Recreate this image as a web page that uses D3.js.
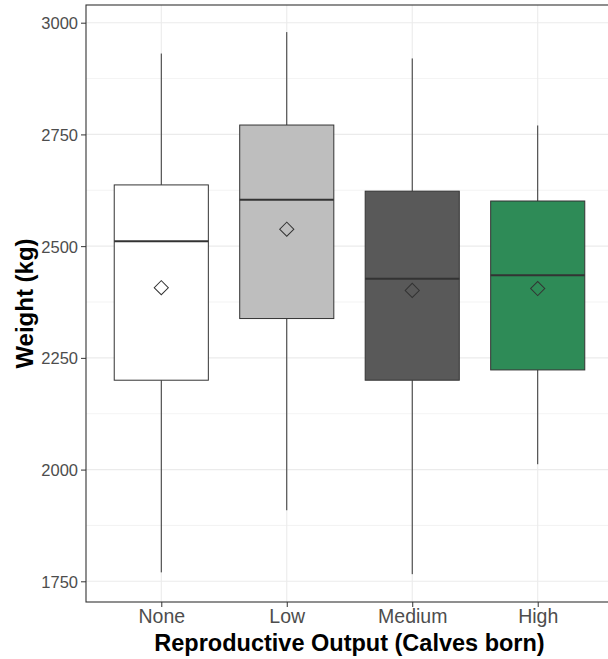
<!DOCTYPE html>
<html>
<head>
<meta charset="utf-8">
<script src="https://cdn.jsdelivr.net/npm/d3@7"></script>
<style>
  body { margin: 0; background: #fff; }
  svg { display: block; font-family: "Liberation Sans", Arial, sans-serif; }
</style>
</head>
<body>
<svg id="chart" width="608" height="659"></svg>
<script>
// values
const groups = ['None', 'Low', 'Medium', 'High'];
const fills = ['#ffffff', '#bebebe', '#595959', '#2e8b57'];
const whiskerLow = [1770, 1909, 1766, 2012];
const q1 = [2200, 2338, 2200, 2223];
const median = [2511, 2604, 2427, 2435];
const q3 = [2637, 2771, 2623, 2601];
const whiskerHigh = [2931, 2979, 2920, 2770];
const means = [2407, 2538, 2401, 2405];
const yTicks = [1750, 2000, 2250, 2500, 2750, 3000];
const yMinor = [1875, 2125, 2375, 2625, 2875];

const svg = d3.select('#chart');
const margin = { top: 5, right: -5, bottom: 57, left: 86 };
const W = 608, H = 659;
const width = W - margin.left - margin.right;
const height = H - margin.top - margin.bottom;

const x = d3.scalePoint()
    .domain(groups)
    .range([0, width])
    .padding(0.6);
const step = x.step();
const y = d3.scaleLinear()
    .domain([1703.7, 3039.6])
    .range([height, 0]);

const g = svg.append('g')
    .attr('transform', 'translate(' + margin.left + ',' + margin.top + ')');

// grid
g.selectAll('.minor').data(yMinor).enter().append('line')
    .attr('x1', 0).attr('x2', width)
    .attr('y1', d => y(d)).attr('y2', d => y(d))
    .attr('stroke', '#ebebeb').attr('stroke-width', 0.6);
g.selectAll('.major').data(yTicks).enter().append('line')
    .attr('x1', 0).attr('x2', width)
    .attr('y1', d => y(d)).attr('y2', d => y(d))
    .attr('stroke', '#ebebeb').attr('stroke-width', 1.1);
g.selectAll('.vgrid').data(groups).enter().append('line')
    .attr('x1', d => x(d)).attr('x2', d => x(d))
    .attr('y1', 0).attr('y2', height)
    .attr('stroke', '#ebebeb').attr('stroke-width', 1.1);

// boxes
const data = groups.map((k, i) => ({
    k, fill: fills[i], lo: whiskerLow[i], q1: q1[i], med: median[i],
    q3: q3[i], hi: whiskerHigh[i], mean: means[i]
}));
const bw = step * 0.75;
const box = g.selectAll('.box').data(data).enter().append('g');
box.append('line')
    .attr('x1', d => x(d.k)).attr('x2', d => x(d.k))
    .attr('y1', d => y(d.q3)).attr('y2', d => y(d.hi))
    .attr('stroke', '#333').attr('stroke-width', 1);
box.append('line')
    .attr('x1', d => x(d.k)).attr('x2', d => x(d.k))
    .attr('y1', d => y(d.q1)).attr('y2', d => y(d.lo))
    .attr('stroke', '#333').attr('stroke-width', 1);
box.append('rect')
    .attr('x', d => x(d.k) - bw / 2)
    .attr('width', bw)
    .attr('y', d => y(d.q3))
    .attr('height', d => y(d.q1) - y(d.q3))
    .attr('fill', d => d.fill)
    .attr('stroke', '#333').attr('stroke-width', 1);
box.append('line')
    .attr('x1', d => x(d.k) - bw / 2).attr('x2', d => x(d.k) + bw / 2)
    .attr('y1', d => y(d.med)).attr('y2', d => y(d.med))
    .attr('stroke', '#333').attr('stroke-width', 2);
box.append('path')
    .attr('d', d3.symbol(d3.symbolSquare, 100))
    .attr('transform', d => 'translate(' + x(d.k) + ',' + y(d.mean) + ') rotate(45)')
    .attr('fill', 'none')
    .attr('stroke', '#333').attr('stroke-width', 1);

// axes
const yAxis = g.append('g')
    .call(d3.axisLeft(y).tickValues(yTicks).tickFormat(d3.format('d')).tickSize(5).tickPadding(3));
const xAxis = g.append('g')
    .attr('transform', 'translate(0,' + height + ')')
    .call(d3.axisBottom(x).tickSize(5).tickPadding(2));
[yAxis, xAxis].forEach(a => {
    a.select('.domain').remove();
    a.selectAll('line').attr('stroke', '#333').attr('stroke-width', 1);
    a.selectAll('text').attr('fill', '#4d4d4d').attr('font-family', 'Liberation Sans, Arial, sans-serif');
});
yAxis.selectAll('text').attr('font-size', 16.5).attr('dy', '0.36em');
xAxis.selectAll('text').attr('font-size', 19.5).attr('dy', '0.7em');

// panel border
g.append('rect')
    .attr('x', 0).attr('y', 0)
    .attr('width', width).attr('height', height)
    .attr('fill', 'none').attr('stroke', '#333').attr('stroke-width', 1.1);

// titles
svg.append('text')
    .attr('x', margin.left + width / 2)
    .attr('y', 651)
    .attr('text-anchor', 'middle')
    .attr('font-size', 23.5).attr('font-weight', 'bold').attr('fill', '#000')
    .text('Reproductive Output (Calves born)');
svg.append('text')
    .attr('transform', 'translate(33,' + (margin.top + height / 2) + ') rotate(-90)')
    .attr('text-anchor', 'middle')
    .attr('font-size', 24).attr('font-weight', 'bold').attr('fill', '#000')
    .text('Weight (kg)');
</script>
</body>
</html>
